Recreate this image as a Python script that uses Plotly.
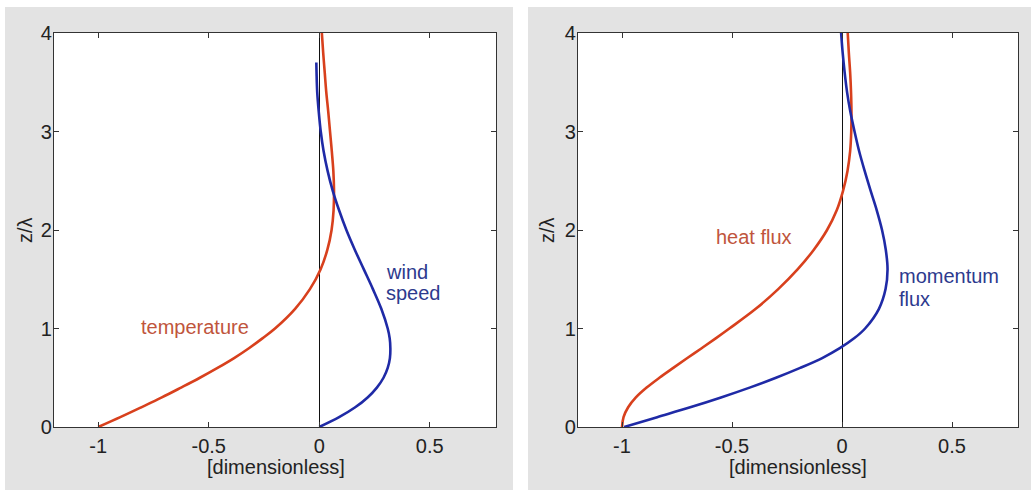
import plotly.graph_objects as go

# ---------------- data ----------------
z_full = [0, 0.1, 0.2, 0.3, 0.4, 0.5, 0.6, 0.7, 0.8, 0.9, 1.0, 1.2, 1.4, 1.6,
          1.8, 2.0, 2.2, 2.4, 2.6, 2.8, 3.0, 3.2, 3.4, 3.6, 3.8, 4.0]

temperature = [-1.0, -0.90, -0.805, -0.712, -0.625, -0.54, -0.46, -0.385, -0.318,
               -0.257, -0.20, -0.109, -0.042, 0.006, 0.037, 0.056, 0.065, 0.067,
               0.064, 0.057, 0.049, 0.041, 0.032, 0.025, 0.018, 0.012]

z_wind = [0, 0.1, 0.2, 0.3, 0.4, 0.5, 0.6, 0.7, 0.8, 0.9, 1.0, 1.2, 1.4, 1.6,
          1.8, 2.0, 2.2, 2.4, 2.6, 2.8, 3.0, 3.2, 3.4, 3.6, 3.7]
wind_speed = [0.0, 0.090, 0.163, 0.219, 0.261, 0.291, 0.310, 0.320, 0.322, 0.319,
              0.310, 0.281, 0.243, 0.202, 0.161, 0.123, 0.090, 0.061, 0.038,
              0.020, 0.007, -0.002, -0.009, -0.012, -0.013]

heat_flux = [-1.0, -0.993, -0.972, -0.937, -0.888, -0.830, -0.767, -0.703, -0.638,
             -0.574, -0.512, -0.392, -0.290, -0.202, -0.128, -0.068, -0.024, 0.005,
             0.025, 0.037, 0.042, 0.043, 0.041, 0.037, 0.031, 0.026]

momentum_flux = [-0.99, -0.84, -0.69, -0.55, -0.42, -0.30, -0.19, -0.09, -0.01,
                 0.055, 0.105, 0.168, 0.198, 0.207, 0.199, 0.182, 0.158, 0.130,
                 0.103, 0.078, 0.057, 0.038, 0.023, 0.012, 0.003, -0.004]

x_tickvals = [-1, -0.5, 0, 0.5]
x_ticktext = ["-1", "-0.5", "0", "0.5"]
y_tickvals = [0, 1, 2, 3, 4]
y_ticktext = ["0", "1", "2", "3", "4"]

RED = "#d8401d"
BLUE = "#1f2aa6"
RED_TXT = "#c0553c"
BLUE_TXT = "#2d3a8e"
FONT = "Liberation Sans, Arial, Helvetica, sans-serif"

W, H = 1031, 495

def px_x(p):
    return p / W

def px_y(p):
    return 1 - p / H

fig = go.Figure()

fig.add_trace(go.Scatter(x=temperature, y=z_full, mode="lines", line=dict(color=RED, width=2.6, shape="spline"),
                         xaxis="x", yaxis="y", showlegend=False, hoverinfo="skip"))
fig.add_trace(go.Scatter(x=wind_speed, y=z_wind, mode="lines", line=dict(color=BLUE, width=2.6, shape="spline"),
                         xaxis="x", yaxis="y", showlegend=False, hoverinfo="skip"))
fig.add_trace(go.Scatter(x=heat_flux, y=z_full, mode="lines", line=dict(color=RED, width=2.6, shape="spline"),
                         xaxis="x2", yaxis="y2", showlegend=False, hoverinfo="skip"))
fig.add_trace(go.Scatter(x=momentum_flux, y=z_full, mode="lines", line=dict(color=BLUE, width=2.6, shape="spline"),
                         xaxis="x2", yaxis="y2", showlegend=False, hoverinfo="skip"))

ax_common = dict(showline=True, mirror="ticks", linecolor="#333333", linewidth=1.2,
                 ticks="inside", ticklen=5, tickcolor="#333333", tickwidth=1,
                 showgrid=False, tickfont=dict(family=FONT, size=20, color="#222222"),
                 fixedrange=True, automargin=False)

PL = [(54, 496), (578, 1018)]
PT, PB = 33, 427
ydom = [px_y(PB), px_y(PT)]
fig.update_layout(
    width=W, height=H,
    margin=dict(l=0, r=0, t=0, b=0, autoexpand=False),
    paper_bgcolor="white",
    plot_bgcolor="rgba(0,0,0,0)",
    xaxis=dict(domain=[px_x(PL[0][0]), px_x(PL[0][1])], range=[-1.2, 0.8], tickvals=x_tickvals, ticktext=x_ticktext,
               zeroline=True, zerolinecolor="#111111", zerolinewidth=1, anchor="y",
               ticklabelstandoff=1, **ax_common),
    yaxis=dict(domain=ydom, range=[0, 4], tickvals=y_tickvals, ticktext=y_ticktext,
               zeroline=False, anchor="x", ticklabelstandoff=-3, **ax_common),
    xaxis2=dict(domain=[px_x(PL[1][0]), px_x(PL[1][1])], range=[-1.2, 0.8], tickvals=x_tickvals, ticktext=x_ticktext,
                zeroline=True, zerolinecolor="#111111", zerolinewidth=1, anchor="y2",
                ticklabelstandoff=1, **ax_common),
    yaxis2=dict(domain=ydom, range=[0, 4], tickvals=y_tickvals, ticktext=y_ticktext,
                zeroline=False, anchor="x2", ticklabelstandoff=-3, **ax_common),
)

# grey panel backgrounds, then white plot areas on top of them
GREY = "#e3e3e3"
for x0, x1 in [(5, 513), (528, 1031)]:
    fig.add_shape(type="rect", xref="paper", yref="paper", x0=px_x(x0), x1=px_x(x1),
                  y0=px_y(490), y1=px_y(7), fillcolor=GREY, line=dict(width=0), layer="below")
for x0, x1 in PL:
    fig.add_shape(type="rect", xref="paper", yref="paper", x0=px_x(x0), x1=px_x(x1),
                  y0=px_y(PB), y1=px_y(PT), fillcolor="white", line=dict(width=0), layer="below")

ann = []
# axis titles
for cx in [276, 798]:
    ann.append(dict(text="[dimensionless]", xref="paper", yref="paper", x=px_x(cx), y=px_y(467),
                    xanchor="center", yanchor="middle", showarrow=False,
                    font=dict(family=FONT, size=20, color="#222222")))
for cx in [25, 547]:
    ann.append(dict(text="z/λ", xref="paper", yref="paper", x=px_x(cx), y=px_y(230),
                    xanchor="center", yanchor="middle", showarrow=False, textangle=-90,
                    font=dict(family=FONT, size=20, color="#222222")))

# curve labels
def lab(text, x, y, xr, yr, color):
    return dict(text=text, x=x, y=y, xref=xr, yref=yr, xanchor="left", yanchor="middle",
                showarrow=False, font=dict(family=FONT, size=20, color=color))

ann.append(lab("temperature", -0.815, 1.02, "x", "y", RED_TXT))
ann.append(lab("wind", 0.295, 1.57, "x", "y", BLUE_TXT))
ann.append(lab("speed", 0.295, 1.36, "x", "y", BLUE_TXT))
ann.append(lab("heat flux", -0.58, 1.93, "x2", "y2", RED_TXT))
ann.append(lab("momentum", 0.248, 1.53, "x2", "y2", BLUE_TXT))
ann.append(lab("flux", 0.248, 1.30, "x2", "y2", BLUE_TXT))

fig.update_layout(annotations=ann)

fig.write_html("out.html", config={"displayModeBar": False, "staticPlot": True},
               post_script="document.body.style.margin='0px';document.body.style.padding='0px';")
